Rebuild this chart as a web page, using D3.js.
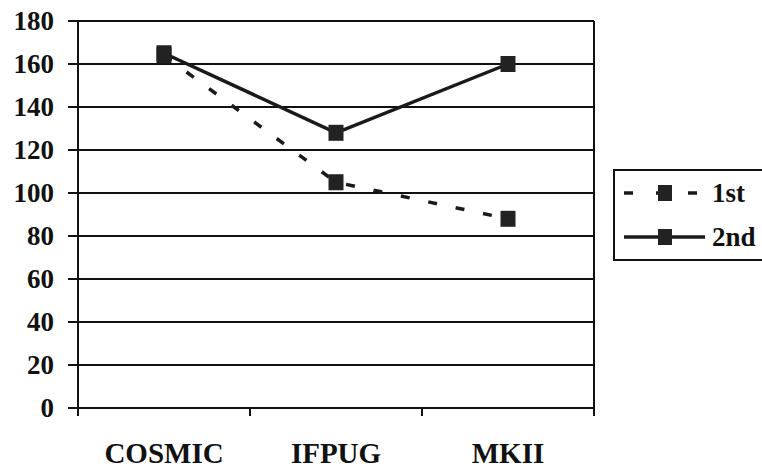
<!DOCTYPE html>
<html>
<head>
<meta charset="utf-8">
<script src="https://cdn.jsdelivr.net/npm/d3@7"></script>
<style>
  body { margin: 0; background: #fff; }
</style>
</head>
<body>
<div id="chart"></div>
<script>
// data
var categories = ["COSMIC", "IFPUG", "MKII"]
var firstRun = [164, 105, 88]
var secondRun = [165, 128, 160]
var yTicks = [0, 20, 40, 60, 80, 100, 120, 140, 160, 180]
var seriesNames = ["1st", "2nd"]

const width = 762, height = 469
const plotLeft = 78, plotRight = 594, plotTop = 21, plotBottom = 408
const serif = "'Liberation Serif', 'DejaVu Serif', 'Times New Roman', serif"

const svg = d3.select("#chart").append("svg")
  .attr("width", width)
  .attr("height", height)
  .attr("font-family", serif)
  .attr("font-weight", "bold")

const x = d3.scaleBand().domain(categories).range([plotLeft, plotRight])
const y = d3.scaleLinear().domain([0, 180]).range([plotBottom, plotTop])

// gridlines + y ticks
svg.append("g")
  .selectAll("line")
  .data(yTicks)
  .enter()
  .append("line")
  .attr("x1", plotLeft - 10)
  .attr("x2", plotRight)
  .attr("y1", d => y(d))
  .attr("y2", d => y(d))
  .style("stroke", "#111")
  .style("stroke-width", 2)

svg.append("g")
  .selectAll("text")
  .data(yTicks)
  .enter()
  .append("text")
  .attr("x", 54)
  .attr("y", d => y(d) + 9)
  .attr("text-anchor", "end")
  .attr("font-family", serif)
  .attr("font-size", 27)
  .attr("fill", "#111")
  .text(d => d)

// axis frame
svg.append("line")
  .attr("x1", plotLeft).attr("x2", plotLeft)
  .attr("y1", plotTop).attr("y2", plotBottom + 8)
  .style("stroke", "#111").style("stroke-width", 2)
svg.append("line")
  .attr("x1", plotRight).attr("x2", plotRight)
  .attr("y1", plotTop).attr("y2", plotBottom + 8)
  .style("stroke", "#111").style("stroke-width", 2)

// category separators on x axis
svg.append("g")
  .selectAll("line")
  .data(categories.slice(1))
  .enter()
  .append("line")
  .attr("x1", d => x(d)).attr("x2", d => x(d))
  .attr("y1", plotBottom).attr("y2", plotBottom + 8)
  .style("stroke", "#111").style("stroke-width", 2)

svg.append("g")
  .selectAll("text")
  .data(categories)
  .enter()
  .append("text")
  .attr("x", d => x(d) + x.bandwidth() / 2)
  .attr("y", 463)
  .attr("text-anchor", "middle")
  .attr("font-family", serif)
  .attr("font-size", 29)
  .attr("fill", "#111")
  .text(d => d)

const cx = d => x(d) + x.bandwidth() / 2
const line = d3.line()
  .x((d, i) => cx(categories[i]))
  .y(d => y(d))

const series = [
  { name: seriesNames[0], values: firstRun, dash: "9,19" },
  { name: seriesNames[1], values: secondRun, dash: null }
]

series.forEach(function(s) {
  svg.append("path")
    .datum(s.values)
    .attr("d", line)
    .style("fill", "none")
    .style("stroke", "#1a1a1a")
    .style("stroke-width", 3.5)
    .style("stroke-dasharray", s.dash)

  svg.append("g")
    .selectAll("rect")
    .data(s.values)
    .enter()
    .append("rect")
    .attr("x", (d, i) => cx(categories[i]) - 7.5)
    .attr("y", d => y(d) - 8)
    .attr("width", 15)
    .attr("height", 16)
    .style("fill", "#222")
})

// legend
const legend = svg.append("g")
legend.append("rect")
  .attr("x", 614).attr("y", 170)
  .attr("width", 160).attr("height", 90)
  .style("fill", "#fff")
  .style("stroke", "#111")
  .style("stroke-width", 2)

series.forEach(function(s, i) {
  var ly = 193 + i * 44
  legend.append("line")
    .attr("x1", 624).attr("x2", 705)
    .attr("y1", ly).attr("y2", ly)
    .style("stroke", "#1a1a1a")
    .style("stroke-width", 3.5)
    .style("stroke-dasharray", s.dash ? "9,23" : null)
  legend.append("rect")
    .attr("x", 658).attr("y", ly - 8)
    .attr("width", 14).attr("height", 16)
    .style("fill", "#222")
  legend.append("text")
    .attr("x", 712).attr("y", ly + 9)
    .attr("font-family", serif)
    .attr("font-size", 27)
    .attr("fill", "#111")
    .text(s.name)
})
</script>
</body>
</html>
